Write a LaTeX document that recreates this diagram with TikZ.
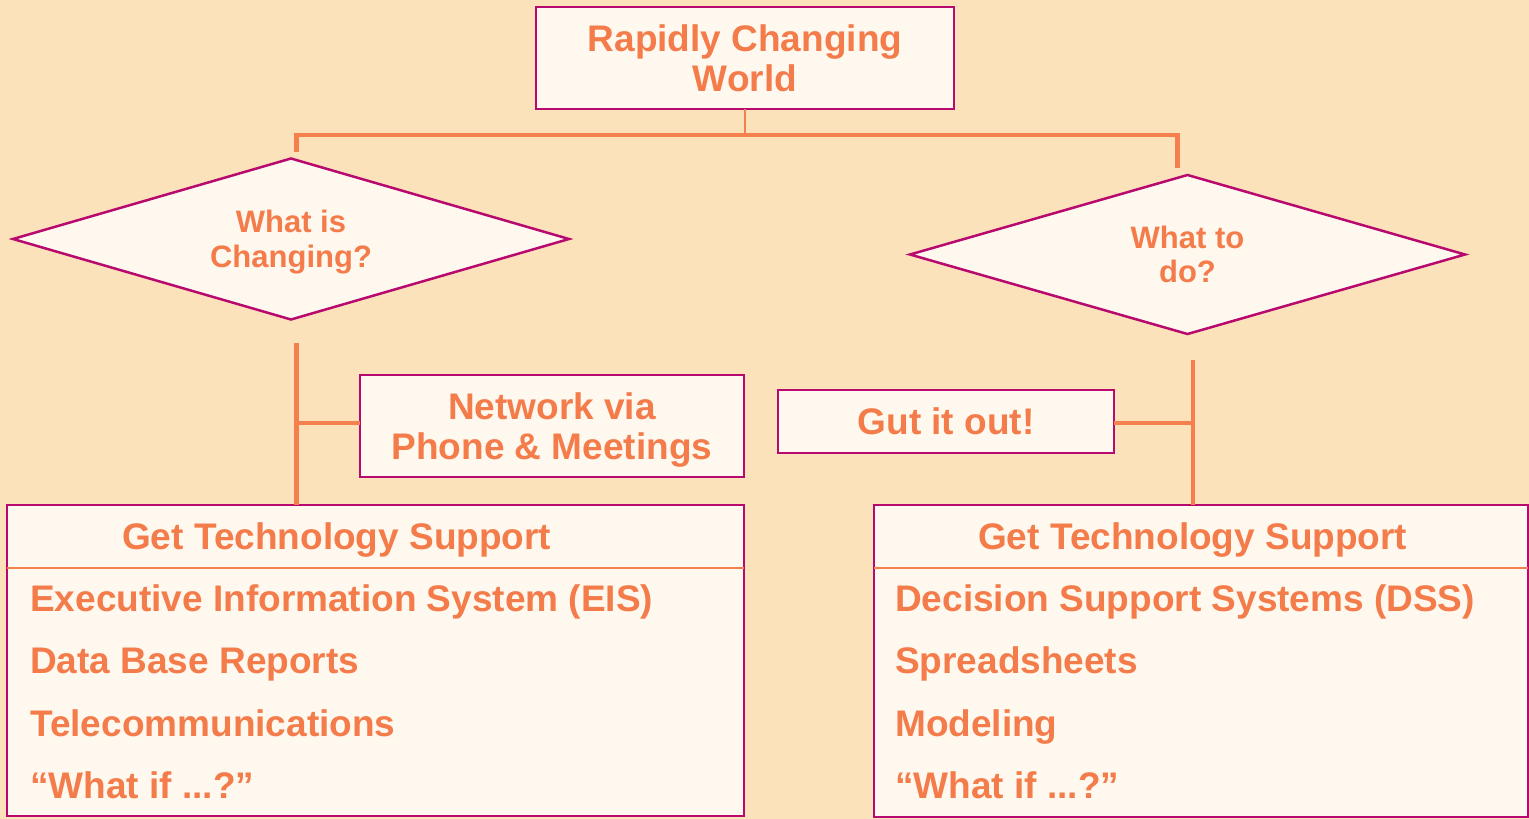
\documentclass[tikz,border=0pt]{standalone}
\usepackage{fontspec}
\setmainfont{Liberation Sans}
\usetikzlibrary{shapes.geometric}
\definecolor{bgc}{HTML}{FBE2BA}
\definecolor{boxfill}{HTML}{FFF8EF}
\definecolor{rim}{HTML}{B80A6E}
\definecolor{ink}{HTML}{F47C4A}
\definecolor{wire}{HTML}{F5804D}
\tikzset{
  box/.style={draw=rim, line width=2.5pt, fill=boxfill, rectangle, inner sep=0pt, outer sep=0pt,
    text=ink, align=center, font=\fontsize{37}{40}\selectfont\bfseries},
  dia/.style={draw=rim, line width=2.5pt, fill=boxfill, diamond, aspect=3.45, inner sep=0pt, outer sep=0pt,
    text=ink, align=center, font=\fontsize{31}{34.5}\selectfont\bfseries},
  item/.style={anchor=base west, inner sep=0pt, text=ink, font=\fontsize{37}{40}\selectfont\bfseries},
  conn/.style={draw=wire, line width=4.5pt},
  thinconn/.style={draw=wire, line width=2pt},
  headrule/.style={draw=wire, line width=2.5pt}
}
\begin{document}
\begin{tikzpicture}[x=1pt,y=-1pt]
\fill[bgc] (0,0) rectangle (1529,819);
\useasboundingbox (0,0) rectangle (1529,819);

% top box
\node[box, minimum width=418pt, minimum height=102pt] (top) at (745,58) {Rapidly Changing\\World};

% diamonds
\node[dia, minimum width=556pt, minimum height=161pt, text depth=0pt] (ld) at (291,239) {What is\\Changing?};
\node[dia, minimum width=555pt, minimum height=159pt] (rd) at (1187.5,254.5) {What to\\do?};

% side boxes
\node[box, minimum width=384pt, minimum height=102pt, text depth=0pt] (net) at (552,426) {Network via\\Phone \& Meetings};
\node[box, minimum width=336pt, minimum height=63pt] (gut) at (946,421.5) {Gut it out!};

% bottom boxes
\node[box, minimum width=737pt, minimum height=311pt] (lbox) at (375.5,660.5) {};
\node[box, minimum width=654pt, minimum height=312pt] (rbox) at (1201,661) {};

\draw[headrule] (lbox.west |- 0,568) -- (lbox.east |- 0,568);
\draw[headrule] (rbox.west |- 0,568) -- (rbox.east |- 0,568);

\node[item] (lh) at (122,549) {Get Technology Support};
\node[item] (l1) at (30,611) {Executive Information System (EIS)};
\node[item] (l2) at (30,673) {Data Base Reports};
\node[item] (l3) at (30,736) {Telecommunications};
\node[item] (l4) at (30,798) {“What if ...?”};

\node[item] (rh) at (978,549) {Get Technology Support};
\node[item] (r1) at (895,611) {Decision Support Systems (DSS)};
\node[item] (r2) at (895,673) {Spreadsheets};
\node[item] (r3) at (895,736) {Modeling};
\node[item] (r4) at (895,798) {“What if ...?”};

% connectors
\coordinate (hub) at (745,135);
\coordinate (hl) at (296.5,135);
\coordinate (hr) at (1177.5,135);
\coordinate (hlend) at (296.5,152);
\coordinate (hrend) at (1177.5,168);
\draw[thinconn] (top.south) -- (hub);
\draw[conn] (hlend) -- (hl) -- (hr) -- (hrend);

\coordinate (ll) at (296.5,343);
\coordinate (rl) at (1193,360);
\draw[conn] (ll) -- (ll |- lbox.north);
\draw[conn] (ll |- 0,423) -- (net.west |- 0,423);
\draw[conn] (rl) -- (rl |- rbox.north);
\draw[conn] (gut.east |- 0,423) -- (rl |- 0,423);
\end{tikzpicture}
\end{document}
